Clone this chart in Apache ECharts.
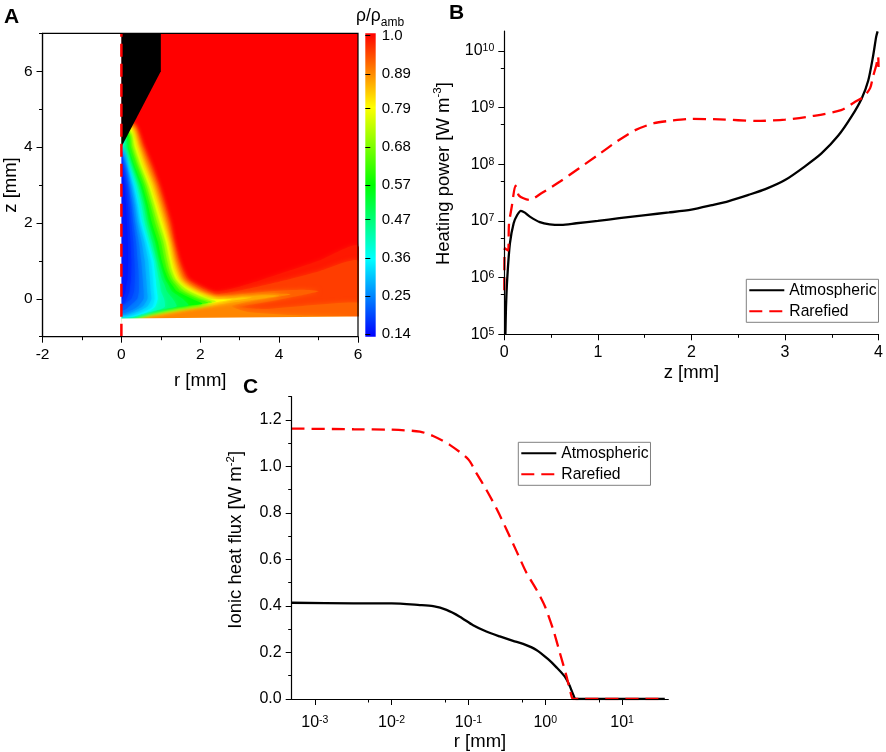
<!DOCTYPE html>
<html>
<head>
<meta charset="utf-8">
<title>Density, heating power and ionic heat flux</title>
<style>
  html, body { margin: 0; padding: 0; background: #fff; }
  #chart { width: 886px; height: 752px; }
</style>
<script src="https://cdn.jsdelivr.net/npm/echarts@6/dist/echarts.min.js"></script>
</head>
<body>
<div id="chart"></div>
<script>
// --- panel A: density contours ---
const barValues = [0.14, 0.25, 0.36, 0.47, 0.57, 0.68, 0.79, 0.89, 1.0];
const jetColors = ['#0000ff', '#00ffff', '#00ff00', '#ffff00', '#ff0000'];
const jetValues = [0.14, 0.36, 0.57, 0.79, 1.0];

const nozzle = [[0, 4], [1, 6], [1, 7], [0, 7]];
const domain = [[0, -0.52], [6, -0.47], [6, 7], [0, 7]];
const maskBelow = [[0, -1.2], [6.2, -1.2], [6.2, -0.47], [6, -0.47], [0, -0.52]];
const maskLeft = [[-2, -1], [0, -1], [0, 7], [-2, 7]];
const centerLine = [[0, -1], [0, 7]];

const contourLevels = [0.98, 0.95, 0.92, 0.89, 0.86, 0.83, 0.79, 0.74, 0.68, 0.63, 0.57, 0.52, 0.47, 0.42, 0.36, 0.34, 0.31, 0.28, 0.25, 0.22, 0.20, 0.18, 0.16];
const wallZ = [4, 3.5, 3, 2.5, 2, 1.5, 1, 0.75, 0.5, 0.35, 0.2, 0];
const contourHead = [
  [0.33, 4.65], [0.31, 4.62], [0.3, 4.6], [0.28, 4.56], [0.27, 4.54], [0.26, 4.52], [0.24, 4.48], [0.22, 4.44], [0.2, 4.4], [0.19, 4.38],
  [0.17, 4.34], [0.15, 4.3], [0.13, 4.26], [0.1, 4.2], [0.07, 4.14], [0.05, 4.1], [0.04, 4.08], [0.03, 4.06], [0.02, 4.04], [0, 4], [0, 4], [0, 4], [0, 4]
];
const contourWall = [
  [0.6, 0.8, 0.98, 1.13, 1.27, 1.36, 1.49, 1.59, 1.74, 2.0, 2.37, null],
  [0.56, 0.76, 0.94, 1.09, 1.23, 1.33, 1.46, 1.55, 1.68, 1.92, 2.2, null],
  [0.52, 0.72, 0.9, 1.05, 1.19, 1.29, 1.42, 1.5, 1.62, 1.82, 2.08, null],
  [0.48, 0.67, 0.86, 1.01, 1.15, 1.26, 1.38, 1.46, 1.57, 1.74, 1.98, null],
  [0.45, 0.63, 0.82, 0.97, 1.11, 1.23, 1.34, 1.42, 1.52, 1.68, 1.92, 2.45],
  [0.42, 0.59, 0.78, 0.93, 1.07, 1.2, 1.3, 1.38, 1.48, 1.63, 1.87, 2.35],
  [0.38, 0.54, 0.73, 0.88, 1.03, 1.17, 1.27, 1.33, 1.44, 1.57, 1.82, 2.25],
  [0.33, 0.49, 0.68, 0.83, 0.97, 1.12, 1.22, 1.28, 1.38, 1.52, 1.72, 2.15],
  [0.28, 0.44, 0.63, 0.77, 0.91, 1.06, 1.16, 1.22, 1.32, 1.45, 1.6, 2.0],
  [0.24, 0.4, 0.58, 0.72, 0.85, 1.0, 1.1, 1.16, 1.26, 1.38, 1.5, 1.9],
  [0.18, 0.33, 0.52, 0.66, 0.77, 0.92, 1.02, 1.09, 1.19, 1.29, 1.4, 1.78],
  [0.15, 0.29, 0.47, 0.6, 0.7, 0.85, 0.96, 1.03, 1.11, 1.2, 1.28, 1.55],
  [0.11, 0.25, 0.42, 0.55, 0.65, 0.78, 0.9, 0.96, 1.03, 1.1, 1.15, 1.3],
  [0.07, 0.21, 0.38, 0.5, 0.59, 0.72, 0.85, 0.9, 0.95, 0.98, 1.0, 1.08],
  [0.02, 0.17, 0.33, 0.44, 0.53, 0.67, 0.81, 0.84, 0.87, 0.88, 0.9, 0.92],
  [0.01, 0.15, 0.3, 0.41, 0.49, 0.63, 0.75, 0.78, 0.8, 0.81, 0.82, 0.84],
  [0, 0.13, 0.27, 0.37, 0.45, 0.58, 0.68, 0.7, 0.72, 0.73, 0.74, 0.76],
  [0, 0.11, 0.23, 0.33, 0.4, 0.51, 0.59, 0.61, 0.63, 0.64, 0.65, 0.66],
  [0, 0.09, 0.19, 0.28, 0.35, 0.44, 0.5, 0.52, 0.54, 0.55, 0.56, 0.56],
  [0, 0.07, 0.16, 0.24, 0.3, 0.37, 0.41, 0.43, 0.44, 0.44, 0.44, 0.4],
  [0, 0.05, 0.13, 0.2, 0.25, 0.3, 0.33, 0.34, 0.34, 0.33, 0.32, 0.25],
  [0, 0.035, 0.1, 0.155, 0.195, 0.23, 0.25, 0.25, 0.24, 0.22, 0.2, 0.13],
  [0, 0.02, 0.07, 0.11, 0.14, 0.16, 0.17, 0.16, 0.15, 0.12, 0.1, 0.03]
];
const contourTail = [
  [[3, 0.32], [4, 0.65], [5, 1.0], [6, 1.4], [6, -0.47], [0, -0.52]],
  [[2.4, 0.12], [3, 0.22], [4, 0.45], [5, 0.72], [6, 1.0], [6, -0.47], [0, -0.52]],
  [[2.4, 0.08], [3, 0.12], [3.8, 0.2], [4.6, 0.24], [5.0, 0.2], [4.5, 0.08], [3.6, -0.1], [3, -0.22], [3.6, -0.27], [6, -0.1], [6, -0.47], [0, -0.52]],
  [[2.4, 0.05], [3, 0.08], [3.8, 0.14], [4.3, 0.12], [3.8, 0.02], [3.2, -0.08], [2.8, -0.2], [3.2, -0.35], [4.5, -0.44], [6, -0.47], [0, -0.52]],
  [[2.5, 0], [3, 0.05], [3.6, 0.09], [4, 0.08], [3.4, -0.02], [2.8, -0.1], [2.4, -0.16], [1.5, -0.28], [0.8, -0.41], [0, -0.52]],
  [[2.6, 0], [3, 0.03], [3.3, 0.03], [2.8, -0.05], [2.4, -0.12], [1.5, -0.27], [0.8, -0.4], [0, -0.52]],
  [[2.5, -0.02], [2.8, -0.02], [2.4, -0.09], [1.5, -0.26], [0.8, -0.39], [0, -0.51]],
  [[2.4, -0.07], [1.5, -0.24], [0.8, -0.37], [0, -0.5]],
  [[2.3, -0.09], [1.5, -0.22], [0.8, -0.35], [0, -0.5]],
  [[2.2, -0.1], [1.5, -0.21], [0.7, -0.36], [0, -0.5]],
  [[2.05, -0.13], [1.4, -0.2], [0.7, -0.35], [0, -0.49]],
  [[1.7, -0.17], [1.2, -0.24], [0.6, -0.36], [0, -0.49]],
  [[1.4, -0.2], [1.0, -0.28], [0.5, -0.38], [0, -0.48]],
  [[1.1, -0.22], [0.8, -0.33], [0.4, -0.42], [0, -0.47]],
  [[0.85, -0.22], [0.65, -0.35], [0.3, -0.47], [0, -0.45]],
  [[0.78, -0.22], [0.56, -0.34], [0.22, -0.45], [0, -0.44]],
  [[0.66, -0.2], [0.45, -0.32], [0.15, -0.42], [0, -0.42]],
  [[0.54, -0.2], [0.32, -0.32], [0.08, -0.42], [0, -0.4]],
  [[0.42, -0.2], [0.2, -0.33], [0, -0.38]],
  [[0.25, -0.15], [0.1, -0.28], [0, -0.3]],
  [[0.12, -0.1], [0, -0.2]],
  [[0.08, -0.1], [0, -0.15]],
  [[0, 0]]
];

// --- panel B: heating power ---
const bAtmZ = [0.012, 0.018, 0.032, 0.06, 0.1, 0.138, 0.177, 0.22, 0.273, 0.38, 0.485, 0.61, 0.77, 1.0, 1.23, 1.51, 1.76, 2.0, 2.22, 2.4, 2.61, 2.79, 3.0, 3.21, 3.39, 3.57, 3.71, 3.82, 3.89, 3.94, 3.975, 3.99];
const bAtm = [1e5, 3e5, 1.0e6, 4e6, 9.1e6, 1.27e7, 1.51e7, 1.4e7, 1.19e7, 9.5e6, 8.7e6, 8.5e6, 9.1e6, 1e7, 1.12e7, 1.27e7, 1.41e7, 1.58e7, 1.9e7, 2.24e7, 2.88e7, 3.63e7, 5.25e7, 9.1e7, 1.55e8, 3.2e8, 6.9e8, 1.45e9, 3e9, 7.8e9, 1.78e10, 2.2e10];
const bRareZ = [0, 0.005, 0.04, 0.05, 0.08, 0.12, 0.157, 0.27, 0.4, 0.6, 0.8, 1.0, 1.2, 1.4, 1.6, 1.8, 2.0, 2.3, 2.7, 3.0, 3.3, 3.6, 3.75, 3.84, 3.91, 3.94, 3.975, 3.995, 4.0];
const bRare = [6e5, 3.3e6, 3e6, 8.7e6, 1.8e7, 4.2e7, 2.8e7, 2.35e7, 3.1e7, 5e7, 8.5e7, 1.45e8, 2.5e8, 4e8, 5.3e8, 5.9e8, 6.3e8, 6.2e8, 5.8e8, 6.1e8, 7.1e8, 9e8, 1.26e9, 1.55e9, 2.2e9, 3.5e9, 5.5e9, 8e9, 5.2e9];

// --- panel C: ionic heat flux ---
const cAtmR = [0.0005, 0.0032, 0.01, 0.0233, 0.0347, 0.0518, 0.0771, 0.115, 0.171, 0.256, 0.381, 0.515, 0.767, 1.09, 1.4, 1.79, 2.08, 2.3, 2.5, 36];
const cAtm = [0.414, 0.411, 0.411, 0.404, 0.399, 0.383, 0.354, 0.317, 0.29, 0.269, 0.25, 0.237, 0.211, 0.171, 0.136, 0.097, 0.057, 0.021, 0, 0];
const cRareR = [0.0005, 0.0032, 0.01, 0.0233, 0.0347, 0.0571, 0.1, 0.127, 0.171, 0.231, 0.313, 0.422, 0.569, 0.767, 0.986, 1.265, 1.545, 1.884, 2.19, 2.3, 36];
const cRare = [1.163, 1.16, 1.158, 1.15, 1.131, 1.093, 1.03, 0.971, 0.9, 0.82, 0.729, 0.636, 0.543, 0.471, 0.4, 0.3, 0.2, 0.1, 0.014, 0, 0];

const seriesNames = ['Atmospheric', 'Rarefied'];

const FONT = '"Liberation Sans", Arial, sans-serif';
const nameFont = 18.5;

function jetColor(v) {
  let i = 0;
  while (i < jetValues.length - 2 && v > jetValues[i + 1]) i++;
  const t = Math.min(1, Math.max(0, (v - jetValues[i]) / (jetValues[i + 1] - jetValues[i])));
  const a = echarts.color.parse(jetColors[i]), b = echarts.color.parse(jetColors[i + 1]);
  return `rgb(${[0, 1, 2].map(k => Math.round(a[k] + (b[k] - a[k]) * t)).join(',')})`;
}

function zip(xs, ys) { return xs.map((x, i) => [x, ys[i]]); }

function contourRing(i) {
  const wall = [];
  contourWall[i].forEach((r, k) => { if (r !== null) wall.push([r, wallZ[k]]); });
  return [contourHead[i], ...wall, ...contourTail[i], [0, 4]];
}

function polygonItem(points, fill, api, blur) {
  const item = { type: 'polygon', shape: { points: points.map(p => api.coord(p)) }, style: { fill: fill } };
  if (blur) {
    item.shape.smooth = 0.2;
    item.style.shadowBlur = blur;
    item.style.shadowColor = fill;
  }
  return item;
}

function powerLabel(v) { return '10{s|' + Math.round(Math.log10(v)) + '}'; }

const supRich = { s: { fontSize: 10.5, fontFamily: FONT, color: '#000', verticalAlign: 'top', lineHeight: 12 } };

// one axis with line, long ticks and labels, one with just the short ticks
function axisPair(o) {
  const base = {
    gridIndex: o.grid, type: o.type || 'value', min: o.min, max: o.max, position: o.position, z: 6,
    splitLine: { show: false }, minorTick: { show: false }
  };
  if (o.logBase) base.logBase = o.logBase;
  const major = Object.assign({}, base, {
    axisLine: { show: true, onZero: false, lineStyle: { color: '#000', width: 1.2 } },
    axisTick: { show: true, length: 6, customValues: o.major, lineStyle: { color: '#000', width: 1 } },
    axisLabel: {
      show: true, customValues: o.major, formatter: o.fmt, color: '#000', margin: o.margin || 10,
      fontFamily: FONT, fontSize: o.font || 16, rich: supRich, hideOverlap: false
    },
    name: o.name, nameLocation: 'middle', nameGap: o.nameGap,
    nameTextStyle: { fontFamily: FONT, fontSize: nameFont, color: '#000', rich: o.nameRich, padding: o.namePadding || 0 }
  });
  const minor = Object.assign({}, base, {
    axisLine: { show: false, onZero: false },
    axisTick: { show: true, length: 3.5, customValues: o.minor, lineStyle: { color: '#000', width: 1 } },
    axisLabel: { show: false }
  });
  return [major, minor];
}

const nameRich = {
  n: { fontFamily: FONT, fontSize: nameFont, color: '#000', verticalAlign: 'bottom', lineHeight: 21 },
  s: { fontFamily: FONT, fontSize: 11.5, color: '#000', verticalAlign: 'top', lineHeight: 21 }
};

const xAxes = [
  ...axisPair({ grid: 0, min: -2, max: 6, position: 'bottom', major: [-2, 0, 2, 4, 6], minor: [-1, 1, 3, 5], fmt: v => String(v), margin: 10, font: 15.5, name: 'r [mm]', nameGap: 35 }),
  { gridIndex: 1, type: 'value', min: 0, max: 1, show: false },
  ...axisPair({ grid: 2, min: 0, max: 4, position: 'bottom', major: [0, 1, 2, 3, 4], minor: [0.5, 1.5, 2.5, 3.5], fmt: v => String(v), margin: 10, name: 'z [mm]', nameGap: 29 }),
  ...axisPair({
    grid: 3, type: 'log', logBase: 10, min: 0.0005, max: 40, position: 'bottom', margin: 16,
    major: [0.001, 0.01, 0.1, 1, 10], minor: [0.005, 0.05, 0.5, 5], fmt: powerLabel, name: 'r [mm]', nameGap: 33
  })
];
const yAxes = [
  ...axisPair({ grid: 0, min: -1, max: 7, position: 'left', major: [0, 2, 4, 6], minor: [-1, 1, 3, 5, 7], fmt: v => String(v), font: 15.5, name: 'z [mm]', nameGap: 22 }),
  {
    gridIndex: 1, type: 'value', min: 0.133, max: 1.007, position: 'right', z: 6,
    axisLine: { show: false }, splitLine: { show: false },
    axisTick: { show: true, length: 5, customValues: barValues, lineStyle: { color: '#000' } },
    axisLabel: { show: true, customValues: barValues, formatter: v => v === 1 ? '1.0' : v.toFixed(2), color: '#000', margin: 6, fontFamily: FONT, fontSize: 15 }
  },
  ...axisPair({
    grid: 2, type: 'log', logBase: 10, min: 1e5, max: 2.24e10, position: 'left',
    major: [1e5, 1e6, 1e7, 1e8, 1e9, 1e10], minor: [5e5, 5e6, 5e7, 5e8, 5e9], fmt: powerLabel,
    name: '{n|Heating power [W m}{s|-3}{n|]}', nameGap: 51, nameRich: nameRich, namePadding: [0, 0, 0, 18]
  }),
  ...axisPair({
    grid: 3, min: 0, max: 1.3, position: 'left',
    major: [0, 0.2, 0.4, 0.6, 0.8, 1.0, 1.2], minor: [0.1, 0.3, 0.5, 0.7, 0.9, 1.1, 1.3], fmt: v => v.toFixed(1),
    name: '{n|Ionic heat flux [W m}{s|-2}{n|]}', nameGap: 46, nameRich: nameRich, namePadding: [0, 0, 0, 16]
  })
];

function curve(name, pts, xi, yi, isDash) {
  return {
    type: 'line', name: name, xAxisIndex: xi, yAxisIndex: yi, data: pts,
    showSymbol: false, symbol: 'none', smooth: 0.25, silent: true,
    lineStyle: isDash ? { color: '#ff0000', width: 2.3, type: [13, 7] } : { color: '#000', width: 2.3 },
    itemStyle: { color: isDash ? '#ff0000' : '#000' },
    z: isDash ? 3 : 2
  };
}

function legendAt(left, top) {
  return {
    left: left, top: top, orient: 'vertical', data: seriesNames, selectedMode: false,
    itemWidth: 35, itemHeight: 14, itemGap: 5, padding: [3, 2, 3, 2],
    borderColor: '#808080', borderWidth: 1, backgroundColor: '#fff',
    itemStyle: { opacity: 0 },
    textStyle: { fontFamily: FONT, fontSize: 15.7, color: '#000' }
  };
}

const panelLetter = (text, left, top) => ({
  text: text, left: left, top: top, padding: 0,
  textStyle: { fontFamily: FONT, fontSize: 21, fontWeight: 'bold', color: '#000' }
});

const chart = echarts.init(document.getElementById('chart'), null, { renderer: 'canvas' });
chart.setOption({
  animation: false,
  backgroundColor: '#fff',
  title: [
    panelLetter('A', 4, 7),
    panelLetter('B', 449, 3),
    panelLetter('C', 243, 377),
    {
      text: 'ρ/ρ{s|amb}', left: 356, top: 3, padding: 0,
      textStyle: {
        fontFamily: FONT, fontSize: 17.5, color: '#000', fontWeight: 'normal',
        rich: { s: { fontFamily: FONT, fontSize: 12, color: '#000', verticalAlign: 'bottom', lineHeight: 26 } }
      }
    }
  ],
  grid: [
    { left: 42, top: 33.3, width: 316, height: 303.4, show: true, borderColor: '#000', borderWidth: 1.2, backgroundColor: 'transparent', z: 6 },
    { left: 365.3, top: 33.3, width: 10.4, height: 303.4 },
    { left: 504.3, top: 31, width: 376.5, height: 303.3 },
    { left: 291.7, top: 396.7, width: 376.6, height: 303.3 }
  ],
  xAxis: xAxes,
  yAxis: yAxes,
  legend: [legendAt(746.3, 279.3), legendAt(518.3, 442.3)],
  series: [
    {
      type: 'custom', xAxisIndex: 0, yAxisIndex: 0, silent: true, clip: true, z: 1,
      data: [[0]],
      renderItem: (params, api) => polygonItem(domain, jetColor(1), api)
    },
    {
      type: 'custom', xAxisIndex: 0, yAxisIndex: 0, silent: true, clip: true, z: 1,
      data: contourLevels.map((v, i) => [i]),
      renderItem: (params, api) => polygonItem(contourRing(params.dataIndex), jetColor(contourLevels[params.dataIndex]), api, 5)
    },
    {
      type: 'custom', xAxisIndex: 0, yAxisIndex: 0, silent: true, clip: true, z: 2,
      data: [[0], [1]],
      renderItem: (params, api) => polygonItem(params.dataIndex ? maskLeft : maskBelow, '#fff', api)
    },
    {
      type: 'custom', xAxisIndex: 0, yAxisIndex: 0, silent: true, clip: true, z: 3,
      data: [[0]],
      renderItem: (params, api) => polygonItem(nozzle, '#000', api)
    },
    {
      type: 'line', xAxisIndex: 0, yAxisIndex: 0, data: centerLine, showSymbol: false, symbol: 'none', silent: true, z: 4,
      lineStyle: { color: '#ff0000', width: 2.5, type: [13, 7] }, clip: false
    },
    {
      type: 'custom', xAxisIndex: 2, yAxisIndex: 2, silent: true, z: 1,
      data: [[0]],
      renderItem: (params, api) => {
        const a = api.coord([0, 1.007]), b = api.coord([1, 0.133]);
        const stops = jetValues.map((v, i) => ({ offset: (v - 0.14) / 0.86, color: jetColors[i] }));
        return {
          type: 'rect', shape: { x: a[0], y: a[1], width: b[0] - a[0], height: b[1] - a[1] },
          style: { fill: new echarts.graphic.LinearGradient(0, 1, 0, 0, stops) }
        };
      }
    },
    curve('Atmospheric', zip(bAtmZ, bAtm), 3, 3, false),
    curve('Rarefied', zip(bRareZ, bRare), 3, 3, true),
    curve('Atmospheric', zip(cAtmR, cAtm), 5, 5, false),
    curve('Rarefied', zip(cRareR, cRare), 5, 5, true)
  ]
});
</script>
</body>
</html>
